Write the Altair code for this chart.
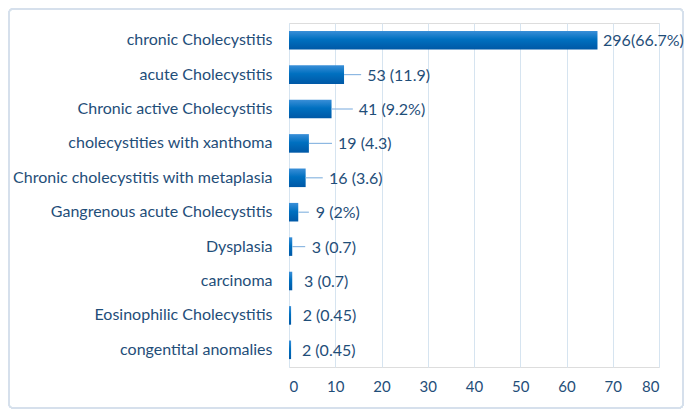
import altair as alt
import pandas as pd

categories = [
    "chronic Cholecystitis",
    "acute Cholecystitis",
    "Chronic active Cholecystitis",
    "cholecystities with xanthoma",
    "Chronic cholecystitis with metaplasia",
    "Gangrenous acute Cholecystitis",
    "Dysplasia",
    "carcinoma",
    "Eosinophilic Cholecystitis",
    "congentital anomalies",
]
percent = [66.7, 11.9, 9.2, 4.3, 3.6, 2.0, 0.7, 0.7, 0.45, 0.45]
labels = ["296(66.7%)", "53 (11.9)", "41 (9.2%)", "19 (4.3)", "16 (3.6)",
          "9 (2%)", "3 (0.7)", "3 (0.7)", "2 (0.45)", "2 (0.45)"]
# where each data label starts and where its leader line ends (axis units)
label_at = [67.9, 16.9, 15.1, 10.6, 8.65, 5.8, 4.9, 3.25, 2.95, 2.8]
leader_end = [None, 15.6, 13.8, 9.3, 7.3, 4.3, 3.5, None, None, None]

df = pd.DataFrame({"cat": categories, "pct": percent, "label": labels,
                   "lx": label_at, "le": leader_end})

TXT = "#1F4E79"
FONT = "Lato"

y = alt.Y("cat:N", sort=categories, title=None,
          scale=alt.Scale(paddingInner=0.46, paddingOuter=0.23),
          axis=alt.Axis(labelFont=FONT, labelFontSize=16, labelColor=TXT,
                        labelPadding=17, ticks=False, domain=True,
                        domainColor="#d6e4f0", labelLimit=300))
x = alt.X("pct:Q", title=None,
          scale=alt.Scale(domain=[0, 80], nice=False),
          axis=alt.Axis(values=list(range(0, 81, 10)), labelFont=FONT,
                        labelFontSize=15, labelColor=TXT, ticks=False,
                        domain=False, grid=True, gridColor="#d6e4f0",
                        labelPadding=12))

grad = alt.Gradient(gradient="linear", x1=0, y1=0, x2=0, y2=1,
                    stops=[alt.GradientStop(offset=0, color="#3a8fd8"),
                           alt.GradientStop(offset=0.45, color="#0070c0"),
                           alt.GradientStop(offset=1, color="#0058a6")])

bars = alt.Chart(df).mark_bar(color=grad).encode(x=x, y=y)

leaders = alt.Chart(df).transform_filter("isValid(datum.le)").mark_rule(
    color="#8db8e2", strokeWidth=1.2).encode(
    x=alt.X("pct:Q"), x2="le:Q",
    y=alt.Y("cat:N", sort=categories, bandPosition=0.5))

texts = alt.Chart(df).mark_text(align="left", baseline="middle", font=FONT,
                                fontSize=16, color=TXT, dy=1).encode(
    x="lx:Q", y=alt.Y("cat:N", sort=categories, bandPosition=0.5),
    text="label:N")

frame = alt.Chart(df).mark_rect(fill="transparent", stroke="#d6e0ec",
                                strokeWidth=1.5, cornerRadius=4).encode(
    x=alt.value(-280), x2=alt.value(394), y=alt.value(-14), y2=alt.value(385))

chart = alt.layer(frame, bars, leaders, texts).properties(
    width=370, height=344,
    padding={"left": 281, "top": 15, "right": 25, "bottom": 42},
    autosize="none",
).configure_view(stroke=None).configure(background="white")

chart.save("out.html", embed_options={"renderer": "svg", "actions": False})
